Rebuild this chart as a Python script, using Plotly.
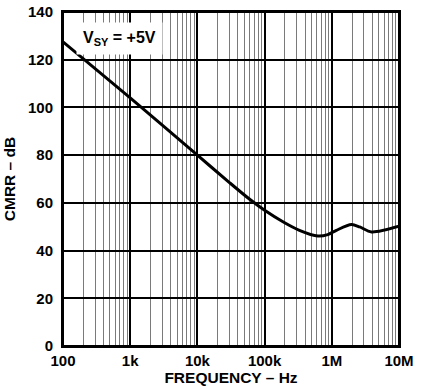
import plotly.graph_objects as go

freq_hz = [100, 1e3, 1e4, 3e4, 6e4, 1e5, 1.9e5, 3.3e5, 6.2e5, 8.7e5, 1.17e6, 1.96e6, 2.6e6, 3.9e6, 1e7]
cmrr_db = [127.5, 104, 80, 68.5, 61.5, 56.9, 52, 48.5, 46.1, 46.7, 48.5, 50.9, 49.9, 47.8, 50.2]

x_tickvals = [100, 1e3, 1e4, 1e5, 1e6, 1e7]
x_ticktext = ["100", "1k", "10k", "100k", "1M", "10M"]
y_tickvals = [0, 20, 40, 60, 80, 100, 120, 140]

font_family = "Liberation Sans, Arial, sans-serif"

fig = go.Figure()
fig.add_trace(go.Scatter(x=freq_hz, y=cmrr_db, mode="lines",
                         line=dict(color="black", width=3, shape="spline", smoothing=0.8),
                         showlegend=False, hoverinfo="skip"))

fig.update_layout(
    width=431, height=389,
    margin=dict(l=63, r=32, t=12, b=43, autoexpand=False),
    paper_bgcolor="white", plot_bgcolor="white",
    font=dict(family=font_family, color="black"),
    xaxis=dict(
        type="log", range=[2, 7], automargin=False,
        tickvals=x_tickvals, ticktext=x_ticktext,
        tickfont=dict(size=15, family=font_family, weight="bold"),
        ticklabelstandoff=0, ticklabeloverflow="allow",
        showgrid=True, gridcolor="black", gridwidth=2,
        minor=dict(dtick="D1", showgrid=True, gridcolor="#7a7a7a", gridwidth=1.3, ticklen=0),
        showline=True, linecolor="black", linewidth=2, mirror=True,
        ticks="", ticklen=0,
        title=dict(text="FREQUENCY – Hz", font=dict(size=15.5, family=font_family, weight="bold"), standoff=0),
        zeroline=False,
    ),
    yaxis=dict(
        range=[0, 140], tickvals=y_tickvals, automargin=False,
        tickfont=dict(size=15, family=font_family, weight="bold"),
        ticklabelstandoff=5, ticklabeloverflow="allow",
        showgrid=True, gridcolor="black", gridwidth=1.5,
        showline=True, linecolor="black", linewidth=2, mirror=True,
        ticks="", ticklen=0,
        title=dict(text="CMRR – dB", font=dict(size=15.5, family=font_family, weight="bold"), standoff=9),
        zeroline=False,
    ),
    shapes=[dict(type="rect", xref="paper", yref="paper", x0=0, x1=1, y0=0, y1=1,
                 line=dict(color="black", width=2), layer="above")],
)

fig.add_annotation(
    xref="paper", yref="paper", x=0.04, y=0.97, xanchor="left", yanchor="top",
    text="<b>V<sub><span style='font-size:11px'>SY</span></sub> = +5V</b>", showarrow=False,
    font=dict(size=16, family=font_family, color="black"),
    bgcolor="white", borderpad=6,
)

fig.write_html("out.html", config={"displayModeBar": False},
               post_script="document.body.style.margin='0';")
